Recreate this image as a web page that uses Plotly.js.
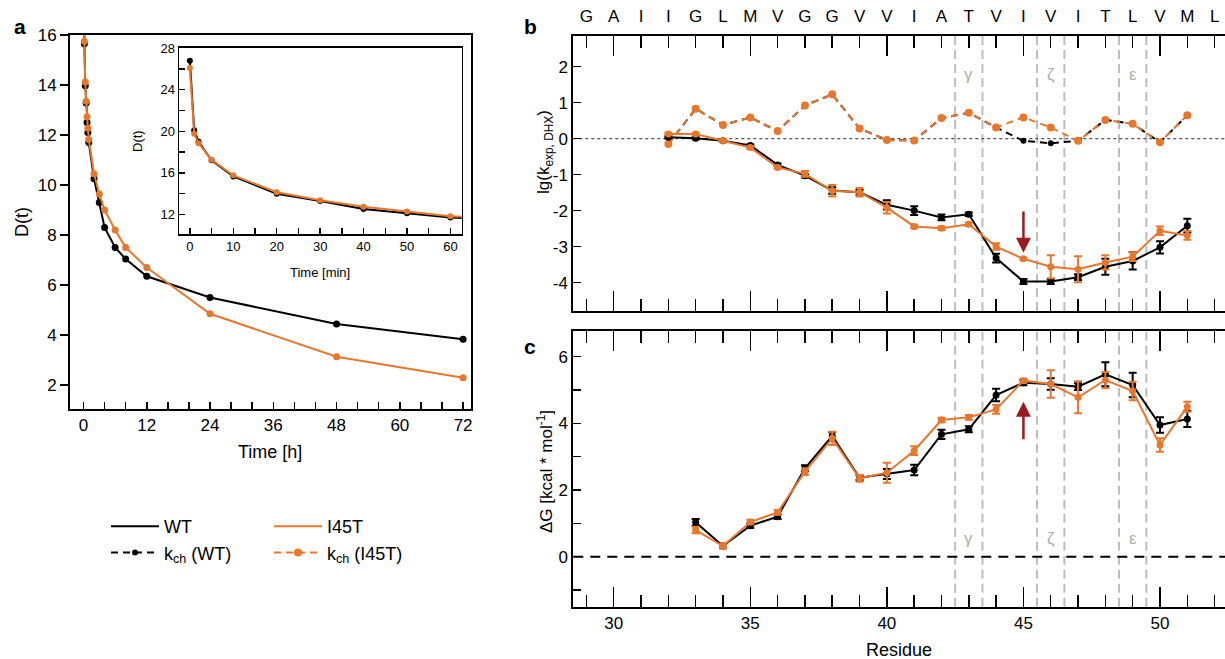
<!DOCTYPE html>
<html><head><meta charset="utf-8">
<script src="https://cdn.plot.ly/plotly-3.0.1.min.js"></script>
<style>html,body{margin:0;padding:0;background:#fff}#chart{width:1225px;height:659px}</style>
</head><body><div id="chart"></div>
<script>
// ---------- data: panel a (deuterium content vs time) ----------
const timeMin = [0, 1, 2, 5, 10, 20, 30, 40, 50, 60, 120, 180, 240, 360, 480, 720, 1440, 2880, 4320];
const dWT   = [26.8, 20.1, 19.0, 17.2, 15.65, 13.97, 13.28, 12.5, 12.1, 11.7, 10.25, 9.3, 8.3, 7.5, 7.04, 6.35, 5.5, 4.44, 3.83];
const dI45T = [26.1, 19.75, 18.85, 17.25, 15.75, 14.12, 13.35, 12.73, 12.27, 11.82, 10.45, 9.64, 9.0, 8.2, 7.5, 6.7, 4.85, 3.13, 2.29];

// ---------- data: panel b (lg k) ----------
const residuesB = [32, 33, 34, 35, 36, 37, 38, 39, 40, 41, 42, 43, 44, 45, 46, 47, 48, 49, 50, 51];
const kchWT    = [-0.15, 0.83, 0.38, 0.59, 0.21, 0.92, 1.23, 0.28, -0.04, -0.05, 0.57, 0.72, 0.31, -0.06, -0.13, -0.06, 0.52, 0.41, -0.10, 0.65];
const kchI45T  = [-0.15, 0.83, 0.38, 0.59, 0.21, 0.92, 1.23, 0.28, -0.04, -0.05, 0.57, 0.72, 0.31, 0.59, 0.31, -0.06, 0.52, 0.41, -0.10, 0.65];
const kexpWT   = [0.04, 0.01, -0.06, -0.19, -0.73, -1.03, -1.44, -1.49, -1.84, -2.0, -2.19, -2.1, -3.32, -3.97, -3.97, -3.85, -3.56, -3.4, -3.02, -2.42];
const kexpWTErr   = [0.03, 0.03, 0.03, 0.03, 0.04, 0.05, 0.09, 0.06, 0.13, 0.12, 0.08, 0.05, 0.12, 0.07, 0.07, 0.08, 0.22, 0.24, 0.17, 0.19];
const kexpI45T = [0.13, 0.13, -0.06, -0.25, -0.8, -0.98, -1.45, -1.49, -1.92, -2.44, -2.49, -2.38, -3.0, -3.34, -3.56, -3.63, -3.44, -3.28, -2.56, -2.69];
const kexpI45TErr = [0.03, 0.03, 0.03, 0.04, 0.04, 0.08, 0.16, 0.12, 0.16, 0.05, 0.05, 0.05, 0.09, 0.03, 0.32, 0.36, 0.2, 0.12, 0.12, 0.12];
const lgTickVals   = [-4, -3, -2, -1, 0, 1, 2];
const lgTickLabels = ['-4', '-3', '-2', '-1', '0', '1', '2'];

// ---------- data: panel c (ΔG) ----------
const residuesC = [33, 34, 35, 36, 37, 38, 39, 40, 41, 42, 43, 44, 45, 46, 47, 48, 49, 50, 51];
const dgWT      = [1.03, 0.32, 0.93, 1.2, 2.65, 3.62, 2.37, 2.48, 2.6, 3.67, 3.82, 4.85, 5.22, 5.18, 5.1, 5.47, 5.15, 3.95, 4.13];
const dgWTErr   = [0.1, 0.07, 0.07, 0.07, 0.09, 0.11, 0.07, 0.15, 0.16, 0.14, 0.09, 0.19, 0.08, 0.17, 0.1, 0.36, 0.37, 0.23, 0.24];
const dgI45T    = [0.8, 0.32, 1.04, 1.33, 2.55, 3.55, 2.35, 2.52, 3.18, 4.1, 4.18, 4.42, 5.28, 5.18, 4.78, 5.3, 4.97, 3.35, 4.5];
const dgI45TErr = [0.1, 0.07, 0.07, 0.07, 0.1, 0.2, 0.1, 0.3, 0.13, 0.07, 0.07, 0.13, 0.06, 0.41, 0.48, 0.24, 0.28, 0.2, 0.15];

// ---------- sequence / annotations ----------
const seqResidues = [29, 30, 31, 32, 33, 34, 35, 36, 37, 38, 39, 40, 41, 42, 43, 44, 45, 46, 47, 48, 49, 50, 51, 52];
const seqLetters  = ['G','A','I','I','G','L','M','V','G','G','V','V','I','A','T','V','I','V','I','T','L','V','M','L'];
const siteBounds  = [42.5, 43.5, 45.5, 46.5, 48.5, 49.5];
const siteNames   = ['γ', 'ζ', 'ε'];
const siteCenters = [43, 46, 49];
const mutationResidue = 45;

// ---------- styling ----------
const W = 1225, H = 659;
const FONT = 'Liberation Sans, Arial, Helvetica, sans-serif';
const ORANGE = '#e8772e', BLACK = '#000000', GREY = '#bdbdbd', RED = '#9b1c20';
const px = v => v / W;
const py = v => 1 - v / H;
const timeH = timeMin.map(m => m / 60);

const traces = [
  // panel a main
  {x: timeH, y: dWT, xaxis: 'x', yaxis: 'y', mode: 'lines+markers', showlegend: false,
   line: {color: BLACK, width: 2}, marker: {color: BLACK, size: 7}},
  {x: timeH, y: dI45T, xaxis: 'x', yaxis: 'y', mode: 'lines+markers', showlegend: false,
   line: {color: ORANGE, width: 2}, marker: {color: ORANGE, size: 7}},
  // inset
  {x: timeMin, y: dWT, xaxis: 'x2', yaxis: 'y2', mode: 'lines+markers', showlegend: false,
   line: {color: BLACK, width: 2}, marker: {color: BLACK, size: 6}},
  {x: timeMin, y: dI45T, xaxis: 'x2', yaxis: 'y2', mode: 'lines+markers', showlegend: false,
   line: {color: ORANGE, width: 2}, marker: {color: ORANGE, size: 6}},
  // panel b intrinsic rates
  {x: residuesB, y: kchWT, xaxis: 'x3', yaxis: 'y3', mode: 'lines+markers', name: 'k<sub>ch</sub> (WT)',
   legend: 'legend', legendrank: 2,
   line: {color: BLACK, width: 2, dash: '7px,5px'}, marker: {color: BLACK, size: 6}},
  {x: residuesB, y: kchI45T, xaxis: 'x3', yaxis: 'y3', mode: 'lines+markers', name: 'k<sub>ch</sub> (I45T)',
   legend: 'legend2', legendrank: 2,
   line: {color: ORANGE, width: 2, dash: '7px,5px'}, marker: {color: ORANGE, size: 8}},
  // panel b exchange rates
  {x: residuesB, y: kexpWT, xaxis: 'x3', yaxis: 'y3', mode: 'lines+markers', showlegend: false,
   error_y: {type: 'data', array: kexpWTErr, color: BLACK, thickness: 2, width: 4},
   line: {color: BLACK, width: 2}, marker: {color: BLACK, size: 7}},
  {x: residuesB, y: kexpI45T, xaxis: 'x3', yaxis: 'y3', mode: 'lines+markers', showlegend: false,
   error_y: {type: 'data', array: kexpI45TErr, color: ORANGE, thickness: 2, width: 4},
   line: {color: ORANGE, width: 2}, marker: {color: ORANGE, size: 7}},
  // sequence axis carrier (no visible marks)
  {x: seqResidues, y: seqResidues.map(() => null), xaxis: 'x4', yaxis: 'y3', mode: 'markers',
   showlegend: false, hoverinfo: 'skip'},
  // panel c
  {x: residuesC, y: dgWT, xaxis: 'x5', yaxis: 'y5', mode: 'lines+markers', showlegend: false,
   error_y: {type: 'data', array: dgWTErr, color: BLACK, thickness: 2, width: 4},
   line: {color: BLACK, width: 2}, marker: {color: BLACK, size: 7}},
  {x: residuesC, y: dgI45T, xaxis: 'x5', yaxis: 'y5', mode: 'lines+markers', showlegend: false,
   error_y: {type: 'data', array: dgI45TErr, color: ORANGE, thickness: 2, width: 4},
   line: {color: ORANGE, width: 2}, marker: {color: ORANGE, size: 7}},
  // legend-only line samples
  {x: [null], y: [null], xaxis: 'x', yaxis: 'y', mode: 'lines', name: 'WT', legend: 'legend', legendrank: 1,
   line: {color: BLACK, width: 2}},
  {x: [null], y: [null], xaxis: 'x', yaxis: 'y', mode: 'lines', name: 'I45T', legend: 'legend2', legendrank: 1,
   line: {color: ORANGE, width: 2}}
];

const baseAx = {showgrid: false, zeroline: false, showline: true, linecolor: BLACK, linewidth: 2,
  tickcolor: BLACK, tickwidth: 1.5, tickfont: {size: 17, family: FONT, color: BLACK}};

const shapes = [];
siteBounds.forEach(b => {
  shapes.push({type: 'line', xref: 'x3', yref: 'y3 domain', x0: b, x1: b, y0: 0, y1: 1, layer: 'below',
    line: {color: GREY, width: 2, dash: '9px,5px'}});
  shapes.push({type: 'line', xref: 'x5', yref: 'y5 domain', x0: b, x1: b, y0: 0, y1: 1, layer: 'below',
    line: {color: GREY, width: 2, dash: '9px,5px'}});
});
shapes.push({type: 'line', xref: 'x3 domain', yref: 'y3', x0: 0, x1: 1, y0: 0, y1: 0, layer: 'below',
  line: {color: '#555555', width: 1.3, dash: '3px,3px'}});
shapes.push({type: 'line', xref: 'x5 domain', yref: 'y5', x0: 0, x1: 1, y0: 0, y1: 0, layer: 'below',
  line: {color: BLACK, width: 2, dash: '10px,7px'}});

const annotations = [];
siteNames.forEach((n, i) => {
  annotations.push({x: siteCenters[i], y: 1.77, xref: 'x3', yref: 'y3', text: n, showarrow: false,
    xanchor: 'center', yanchor: 'middle', font: {size: 17, color: '#adadad', family: FONT}});
  annotations.push({x: siteCenters[i], y: 0.55, xref: 'x5', yref: 'y5', text: n, showarrow: false,
    xanchor: 'center', yanchor: 'middle', font: {size: 17, color: '#adadad', family: FONT}});
});
// mutation arrows
annotations.push({x: mutationResidue, y: -3.17, ax: mutationResidue, ay: -1.98, xref: 'x3', yref: 'y3',
  axref: 'x3', ayref: 'y3', text: '', showarrow: true, arrowhead: 2, arrowsize: 1.2, arrowwidth: 2.5, arrowcolor: RED});
annotations.push({x: mutationResidue, y: 4.65, ax: mutationResidue, ay: 3.48, xref: 'x5', yref: 'y5',
  axref: 'x5', ayref: 'y5', text: '', showarrow: true, arrowhead: 2, arrowsize: 1.2, arrowwidth: 2.5, arrowcolor: RED});
// panel letters and axis titles
const textAnn = (t, x, y, ang, size) => annotations.push({x: px(x), y: py(y), xref: 'paper', yref: 'paper',
  text: t, showarrow: false, textangle: ang, xanchor: 'center', yanchor: 'middle',
  font: {size: size, family: FONT, color: BLACK}});
textAnn('<b>a</b>', 20, 27, 0, 21);
textAnn('<b>b</b>', 530, 27, 0, 21);
textAnn('<b>c</b>', 530, 346, 0, 21);
textAnn('D(t)', 22, 222, -90, 18);
textAnn('Time [h]', 270, 452, 0, 18);
textAnn('D(t)', 137, 141, -90, 13);
textAnn('Time [min]', 320, 272, 0, 13);
textAnn('lg(k<sub>exp, DHX</sub>)', 545, 152, -90, 17);
textAnn('ΔG [kcal * mol<sup>-1</sup>]', 545, 472, -90, 17);
textAnn('Residue', 899, 650, 0, 18);

const layout = {
  width: W, height: H, margin: {l: 0, r: 0, t: 0, b: 0},
  paper_bgcolor: '#ffffff', plot_bgcolor: 'rgba(0,0,0,0)',
  font: {family: FONT, size: 17, color: BLACK},
  xaxis: Object.assign({}, baseAx, {domain: [px(70), px(471)], range: [-2.56, 73.5], anchor: 'y', mirror: true,
    ticks: 'inside', ticklen: 7, tick0: 0, dtick: 12,
    minor: {dtick: 4, ticks: 'inside', ticklen: 7, tickwidth: 1.5, tickcolor: BLACK}}),
  yaxis: Object.assign({}, baseAx, {domain: [py(409), py(35)], range: [1.04, 16], anchor: 'x', mirror: true,
    ticks: 'outside', ticklen: 8, tick0: 0, dtick: 2}),
  xaxis2: Object.assign({}, baseAx, {domain: [px(179), px(461.7)], range: [-2.5, 62.6], anchor: 'y2', mirror: true,
    linewidth: 1.5, ticks: 'inside', ticklen: 6, tick0: 0, dtick: 10, tickfont: {size: 13, family: FONT},
    minor: {dtick: 5, ticks: 'inside', ticklen: 6, tickwidth: 1.5, tickcolor: BLACK}}),
  yaxis2: Object.assign({}, baseAx, {domain: [py(234), py(47.7)], range: [10.1, 28.05], anchor: 'x2', mirror: true,
    linewidth: 1.5, ticks: 'inside', ticklen: 6, tick0: 0, dtick: 4, tickfont: {size: 13, family: FONT},
    minor: {dtick: 2, ticks: 'inside', ticklen: 6, tickwidth: 1.5, tickcolor: BLACK}}),
  xaxis3: Object.assign({}, baseAx, {domain: [px(573.3), 1], range: [28.52, 52.38], anchor: 'y3', mirror: 'ticks',
    ticks: 'inside', ticklen: 20, tick0: 30, dtick: 5, showticklabels: false,
    minor: {dtick: 1, ticks: 'inside', ticklen: 12, tickwidth: 1.5, tickcolor: BLACK}}),
  xaxis4: Object.assign({}, baseAx, {overlaying: 'x3', anchor: 'y3', side: 'top', range: [28.52, 52.38],
    showline: false, ticks: '', tickmode: 'array', tickvals: seqResidues, ticktext: seqLetters, ticklabelstandoff: 9}),
  yaxis3: Object.assign({}, baseAx, {domain: [py(311), py(35.7)], range: [-4.79, 2.86], anchor: 'x3',
    ticks: 'inside', ticklen: 8, tickmode: 'array', tickvals: lgTickVals, ticktext: lgTickLabels}),
  xaxis5: Object.assign({}, baseAx, {domain: [px(573.3), 1], range: [28.52, 52.38], anchor: 'y5', mirror: 'ticks',
    ticks: 'inside', ticklen: 20, tick0: 30, dtick: 5,
    minor: {dtick: 1, ticks: 'inside', ticklen: 12, tickwidth: 1.5, tickcolor: BLACK}}),
  yaxis5: Object.assign({}, baseAx, {domain: [py(606.7), py(331)], range: [-1.5, 6.77], anchor: 'x5',
    ticks: 'inside', ticklen: 8, tick0: 0, dtick: 2,
    minor: {dtick: 1, ticks: 'inside', ticklen: 8, tickwidth: 1.5, tickcolor: BLACK}}),
  legend: {x: px(106), y: py(508), xanchor: 'left', yanchor: 'top', bgcolor: 'rgba(0,0,0,0)',
    font: {size: 18, family: FONT, color: BLACK}, itemwidth: 48, traceorder: 'normal'},
  legend2: {x: px(269), y: py(508), xanchor: 'left', yanchor: 'top', bgcolor: 'rgba(0,0,0,0)',
    font: {size: 18, family: FONT, color: BLACK}, itemwidth: 48, traceorder: 'normal'},
  shapes: shapes,
  annotations: annotations
};

Plotly.newPlot('chart', traces, layout, {displayModeBar: false, staticPlot: true});
</script>
</body></html>
